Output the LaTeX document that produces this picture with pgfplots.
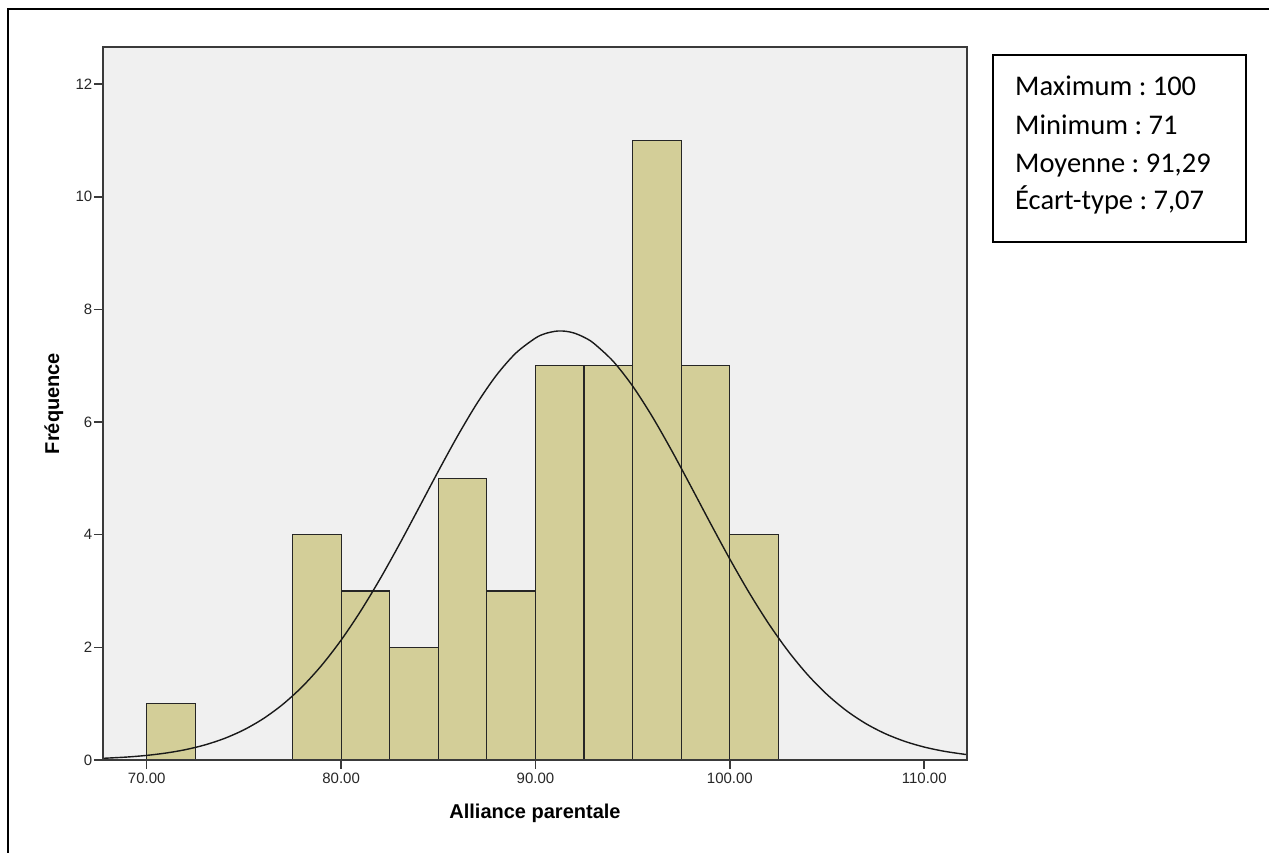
\documentclass[border=0pt]{standalone}
\usepackage{pgfplots}
\pgfplotsset{compat=1.18}
\usepackage{fontspec}
\setmainfont{Liberation Sans}
\newfontfamily\calfont{Carlito}
\definecolor{bgcol}{HTML}{F0F0F0}
\definecolor{barcol}{HTML}{D3CE98}
\definecolor{axcol}{HTML}{3A3A3A}
\frenchspacing
\begin{document}
\begin{tikzpicture}
\path[use as bounding box] (0pt,0pt) rectangle (1269pt,853pt);
\draw[line width=2pt, black] (8pt,-2pt) -- (8pt,844pt) -- (1271pt,844pt);
\begin{axis}[
  at={(103pt,93pt)}, anchor=south west,
  scale only axis, width=864pt, height=713pt,
  xmin=67.75, xmax=112.2, ymin=0, ymax=12.66,
  axis on top=true,
  axis background/.style={fill=bgcol},
  axis line style={draw=axcol, line width=1.6pt},
  xtick={70,80,90,100,110},
  xticklabels={70.00,80.00,90.00,100.00,110.00},
  ytick={0,2,4,6,8,10,12},
  yticklabels={0,2,4,6,8,10,12},
  xtick pos=bottom, ytick pos=left,
  tick align=outside,
  major tick length=9pt,
  tick style={draw=axcol, line width=1.5pt},
  tick label style={font=\fontsize{15}{18}\selectfont, text=black!85},
  yticklabel style={inner xsep=1.5pt},
  xticklabel style={inner ysep=4pt},
  xlabel={\bfseries Alliance parentale},
  ylabel={\bfseries Fréquence},
  label style={font=\fontsize{20}{24}\selectfont},
  xlabel style={at={(axis description cs:0.5,-0.08275)}, anchor=base},
  ylabel style={at={(axis description cs:-0.0509,0.5)}, rotate=0, anchor=base},
]
\addplot[ybar, bar width=2.5, bar shift=0pt, fill=barcol, draw=black!85, line width=1.2pt]
coordinates {(71.25,1) (78.75,4) (81.25,3) (83.75,2) (86.25,5) (88.75,3) (91.25,7) (93.75,7) (96.25,11) (98.75,7) (101.25,4)};
\addplot[smooth, black!90, line width=1.4pt, mark=none] coordinates {
(67.75,0.0298) (69,0.0529) (70,0.0818) (71,0.1240) (72,0.1842) (73,0.2683) (74,0.3830)
(75,0.5358) (76,0.7349) (77,0.9880) (78,1.3017) (79,1.6813) (80,2.1286) (81,2.6416)
(82,3.2128) (83,3.8306) (84,4.4767) (85,5.1281) (86,5.7579) (87,6.3369) (88,6.8360)
(89,7.2284) (90,7.4919) (90.5,7.5714) (91,7.6113) (91.29,7.6177) (91.6,7.6103) (92,7.5794) (92.5,7.5058) (93,7.3981) (94,7.0782)
(95,6.6379) (96,6.1018) (97,5.4978) (98,4.8554) (99,4.2033) (100,3.5666) (101,2.9664)
(102,2.4186) (103,1.9326) (104,1.5139) (105,1.1624) (106,0.8747) (107,0.6451)
(108,0.4664) (109,0.3306) (110,0.2297) (111,0.1564) (112,0.1044) (112.2,0.0960)};
\end{axis}
\draw[line width=1.5pt, black] (993pt,611pt) rectangle (1246pt,798pt);
\begin{scope}[every node/.style={anchor=base west, inner sep=0pt, font=\calfont\fontsize{28.5}{34}\selectfont}]
\node at (1015pt,757pt) {Maximum : 100};
\node at (1015pt,718.3pt) {Minimum : 71};
\node at (1015pt,680.7pt) {Moyenne : 91,29};
\node at (1015pt,643pt) {Écart-type : 7,07};
\end{scope}
\end{tikzpicture}
\end{document}
